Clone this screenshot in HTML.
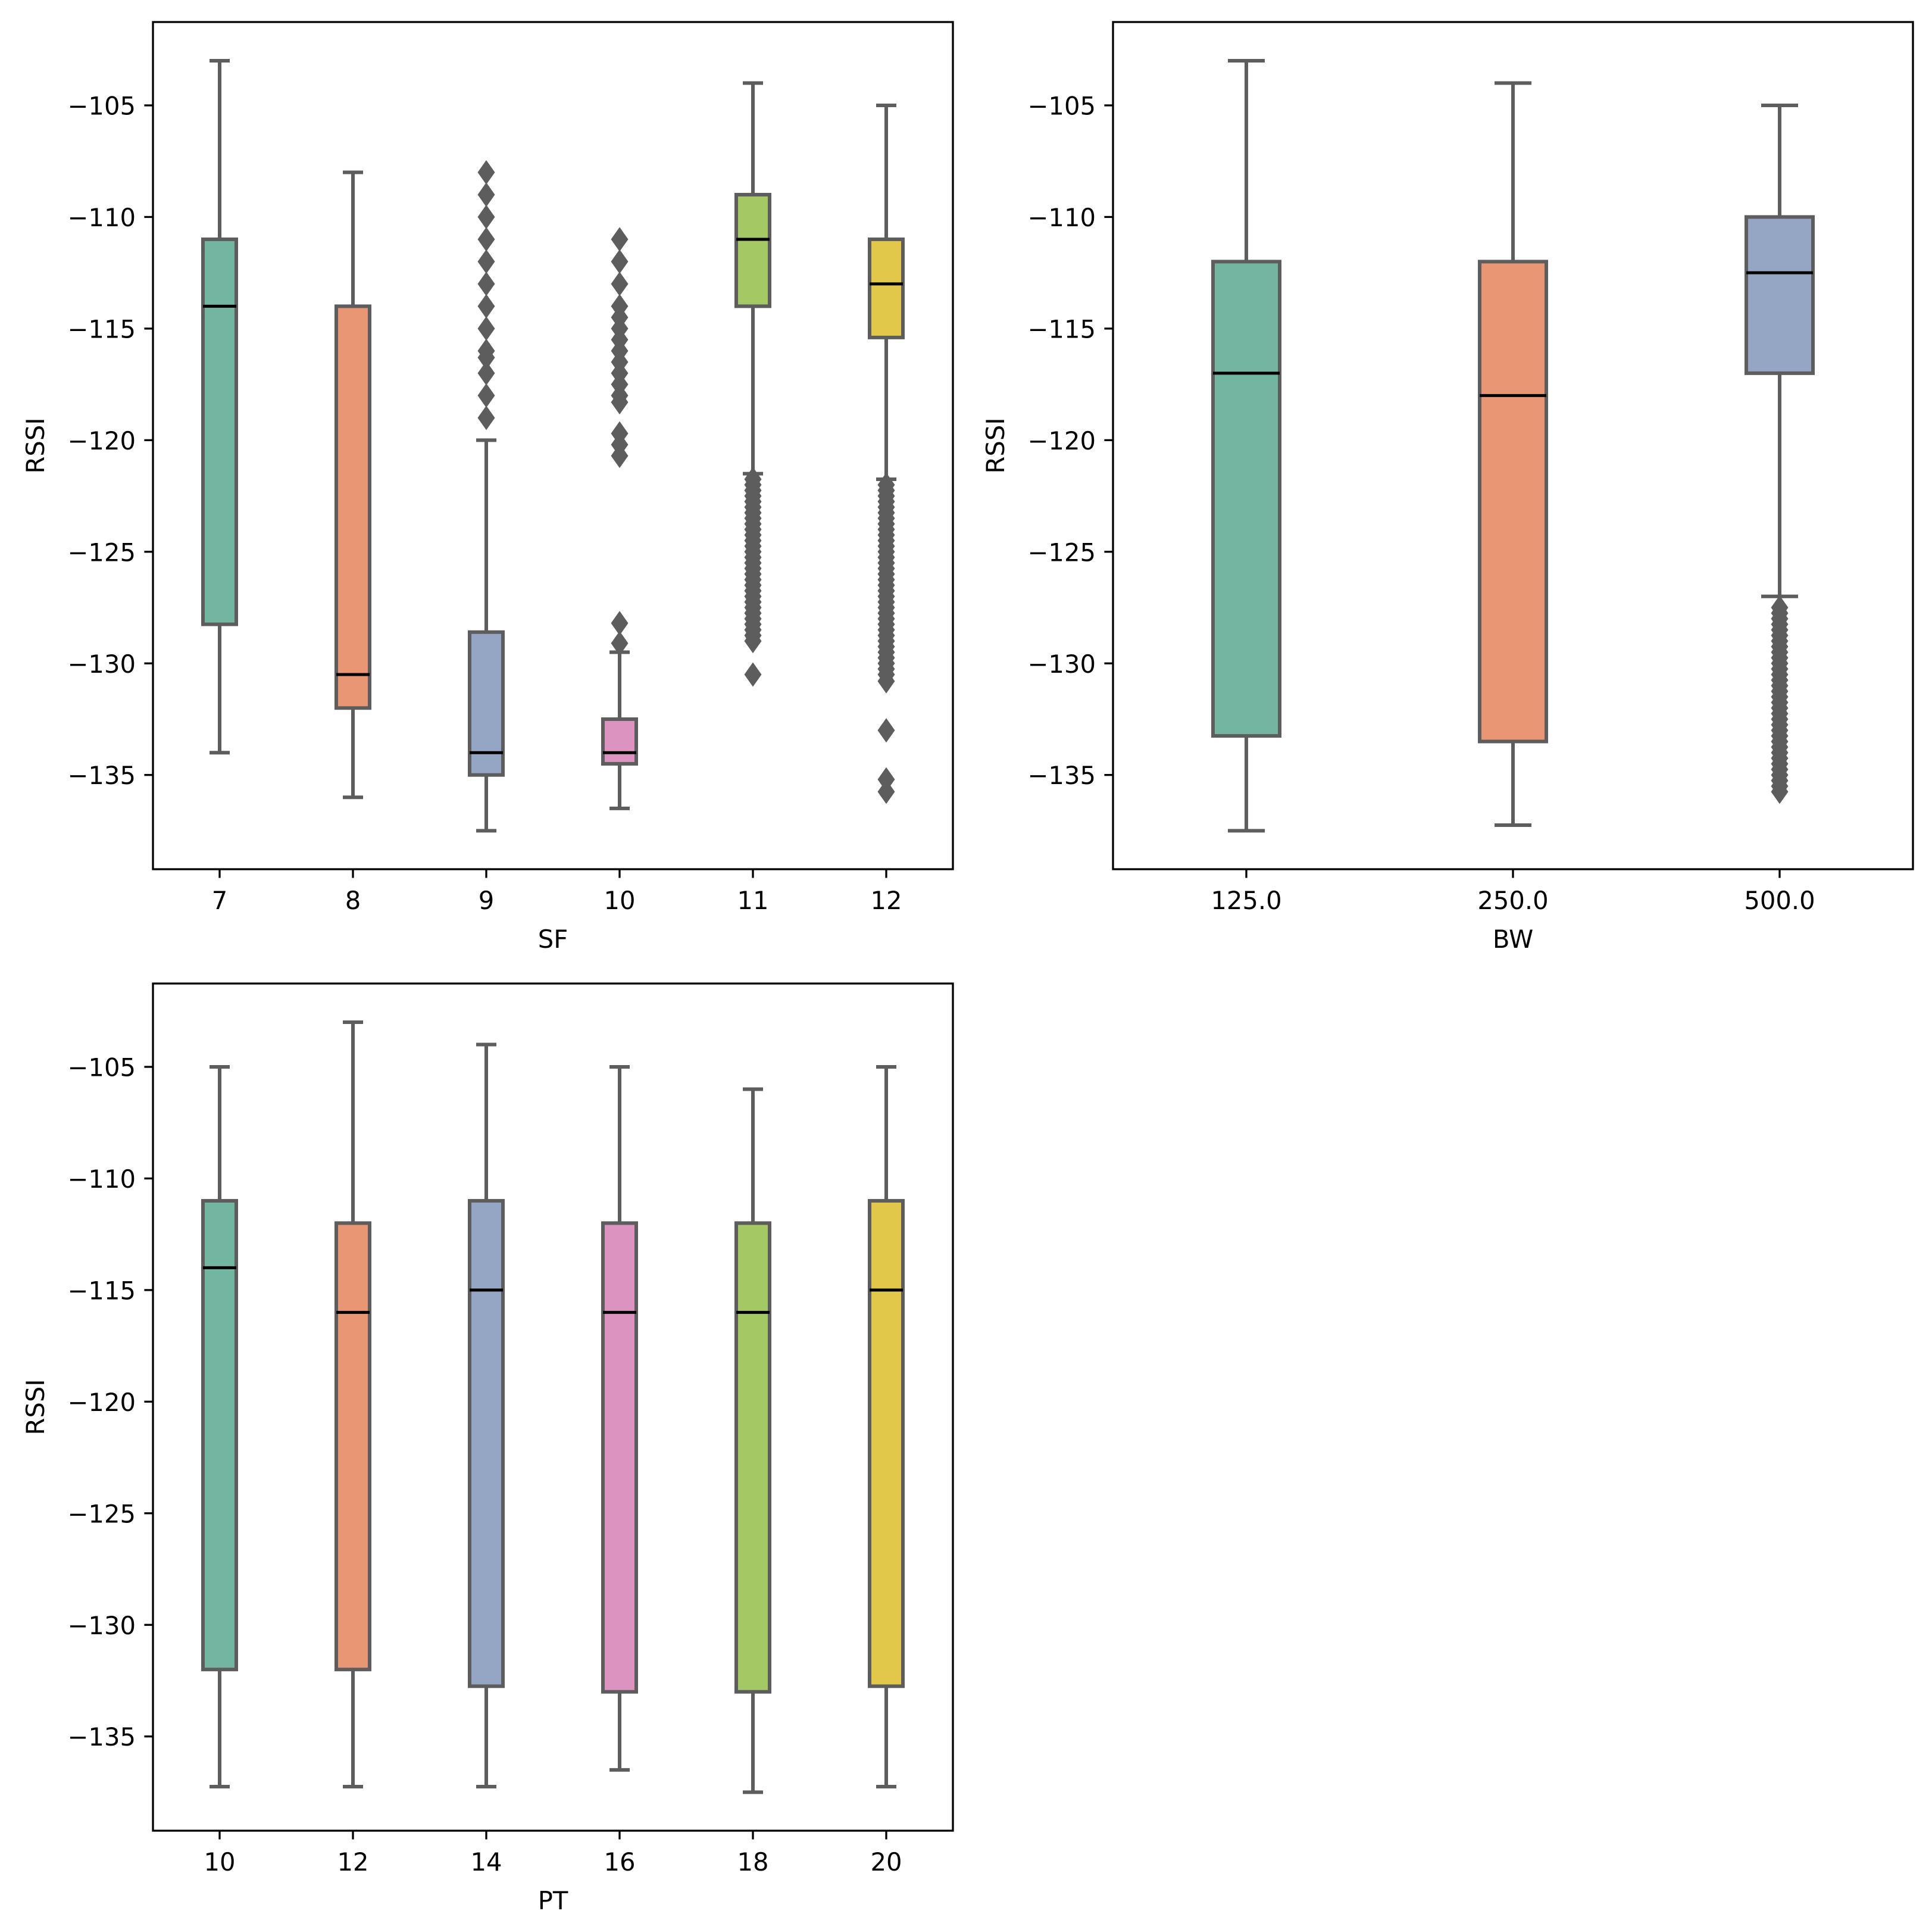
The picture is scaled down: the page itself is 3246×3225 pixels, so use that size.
<!DOCTYPE html>
<html><head><meta charset="utf-8">
<style>
html,body{margin:0;padding:0;background:#fff;}
svg{display:block;font-family:"DejaVu Sans","Liberation Sans",sans-serif;}
</style></head>
<body>
<svg id="fig" width="3246" height="3225" viewBox="0 0 3246 3225" xmlns="http://www.w3.org/2000/svg">
<rect width="3246" height="3225" fill="#fff"/>
</svg>
<script>
// ---- data ----
const yTicks = [-105,-110,-115,-120,-125,-130,-135];
const sfCats = ["7","8","9","10","11","12"];
const sfWhiskHi = [-103,-108,-120,-129.5,-104,-105];
const sfQ3 = [-111,-114,-128.6,-132.5,-109,-111];
const sfMed = [-114,-130.5,-134,-134,-111,-113];
const sfQ1 = [-128.25,-132,-135,-134.5,-114,-115.4];
const sfWhiskLo = [-134,-136,-137.5,-136.5,-121.5,-121.75];
const sfOut7 = [];
const sfOut8 = [];
const sfOut9 = [-108,-109,-110,-111,-112,-113,-114,-115,-116,-116.3,-117,-118,-119];
const sfOut10 = [-111,-112,-113,-114,-114.5,-115,-115.5,-116,-116.5,-117,-117.5,-118,-118.3,-119.7,-120.2,-120.7,-128.2,-129.1];
const sfOut11 = [-121.75,-122,-122.25,-122.5,-122.75,-123,-123.25,-123.5,-123.75,-124,-124.25,-124.5,-124.75,-125,-125.25,-125.5,-125.75,-126,-126.25,-126.5,-126.75,-127,-127.25,-127.5,-127.75,-128,-128.25,-128.5,-128.75,-129,-130.5];
const sfOut12 = [-122,-122.25,-122.5,-122.75,-123,-123.25,-123.5,-123.75,-124,-124.25,-124.5,-124.75,-125,-125.25,-125.5,-125.75,-126,-126.25,-126.5,-126.75,-127,-127.25,-127.5,-127.75,-128,-128.25,-128.5,-128.75,-129,-129.25,-129.5,-129.75,-130,-130.25,-130.5,-130.8,-133,-135.2,-135.75];

const bwCats = ["125.0","250.0","500.0"];
const bwWhiskHi = [-103,-104,-105];
const bwQ3 = [-112,-112,-110];
const bwMed = [-117,-118,-112.5];
const bwQ1 = [-133.25,-133.5,-117];
const bwWhiskLo = [-137.5,-137.25,-127];
const bwOut500 = [-127.5,-127.75,-128,-128.25,-128.5,-128.75,-129,-129.25,-129.5,-129.75,-130,-130.25,-130.5,-130.75,-131,-131.25,-131.5,-131.75,-132,-132.25,-132.5,-132.75,-133,-133.25,-133.5,-133.75,-134,-134.25,-134.5,-134.75,-135,-135.25,-135.5,-135.75];

const ptCats = ["10","12","14","16","18","20"];
const ptWhiskHi = [-105,-103,-104,-105,-106,-105];
const ptQ3 = [-111,-112,-111,-112,-112,-111];
const ptMed = [-114,-116,-115,-116,-116,-115];
const ptQ1 = [-132,-132,-132.75,-133,-133,-132.75];
const ptWhiskLo = [-137.25,-137.25,-137.25,-136.5,-137.5,-137.25];

const palette = ["#72b6a1","#e99675","#95a6c4","#dc93bf","#a4c863","#e2c84a"];

// ---- drawing ----
const NS = "http://www.w3.org/2000/svg";
const fig = document.getElementById("fig");
function mk(tag, attrs, parent){
  const e = document.createElementNS(NS, tag);
  for (const k in attrs) e.setAttribute(k, attrs[k]);
  (parent||fig).appendChild(e);
  return e;
}
const EDGE = "#5d5d5d";

function panel(name, L, R, T, B, cats, hi, q3, med, q1, lo, outs, xlabel){
  const g = mk("g", {});
  
  
  const ppu = 37.49, y105 = T + 140;
  const yS = v => y105 + (-105 - v) * ppu;
  const step = (R - L) / cats.length;
  const xS = i => L + step * (i + 0.5);
  const bw = step * 0.25;
  yTicks.forEach(t => {
    const y = yS(t);
    const tk = mk("line", {x1:L-14.6, x2:L, y1:y, y2:y, stroke:"#000", "stroke-width":3.3}, g);
    
    
    const tx = mk("text", {x:L-29, y:y+15.5, "text-anchor":"end", "font-size":41.7, fill:"#000"}, g);
    
    
    tx.textContent = "\u2212" + Math.abs(t);
  });
  cats.forEach((c, i) => {
    const x = xS(i);
    const tk = mk("line", {x1:x, x2:x, y1:B, y2:B+14.6, stroke:"#000", "stroke-width":3.3}, g);
    
    
    const tx = mk("text", {x:x, y:B+67, "text-anchor":"middle", "font-size":41.7, fill:"#000"}, g);
    
    
    tx.textContent = c;
    const bg = mk("g", {}, g);
    
    
    const ws = {stroke:EDGE, "stroke-width":6, "stroke-linecap":"butt"};
    mk("line", Object.assign({x1:x, x2:x, y1:yS(hi[i]), y2:yS(q3[i])}, ws), bg);
    mk("line", Object.assign({x1:x, x2:x, y1:yS(q1[i]), y2:yS(lo[i])}, ws), bg);
    mk("line", Object.assign({x1:x-bw/4-3, x2:x+bw/4+3, y1:yS(hi[i]), y2:yS(hi[i])}, ws), bg);
    mk("line", Object.assign({x1:x-bw/4-3, x2:x+bw/4+3, y1:yS(lo[i]), y2:yS(lo[i])}, ws), bg);
    mk("rect", {x:x-bw/2, y:yS(q3[i]), width:bw, height:yS(q1[i])-yS(q3[i]), fill:palette[i], stroke:EDGE, "stroke-width":6}, bg);
    mk("line", {x1:x-bw/2, x2:x+bw/2, y1:yS(med[i]), y2:yS(med[i]), stroke:"#000", "stroke-width":5}, bg);
    (outs[i]||[]).forEach(v => {
      const y = yS(v);
      const d = mk("polygon", {points:`${x},${y-20.5} ${x+14.5},${y} ${x},${y+20.5} ${x-14.5},${y}`, fill:EDGE}, bg);
      
      
    });
  });
  const fr = mk("rect", {x:L, y:T, width:R-L, height:B-T, fill:"none", stroke:"#000", "stroke-width":3.3}, g);
  
  
  const xl = mk("text", {x:(L+R)/2, y:B+132, "text-anchor":"middle", "font-size":41.7, fill:"#000"}, g);
  
  
  xl.textContent = xlabel;
  const yl = mk("text", {x:0, y:0, "text-anchor":"middle", "font-size":41.7, fill:"#000", transform:`translate(${L-183},${(T+B)/2}) rotate(-90)`}, g);
  
  
  yl.textContent = "RSSI";
}

panel("sf-boxplot", 257, 1601, 37, 1460, sfCats, sfWhiskHi, sfQ3, sfMed, sfQ1, sfWhiskLo,
  [sfOut7, sfOut8, sfOut9, sfOut10, sfOut11, sfOut12], "SF");
panel("bw-boxplot", 1870, 3214, 37, 1460, bwCats, bwWhiskHi, bwQ3, bwMed, bwQ1, bwWhiskLo,
  [[], [], bwOut500], "BW");
panel("pt-boxplot", 257, 1601, 1652, 3075, ptCats, ptWhiskHi, ptQ3, ptMed, ptQ1, ptWhiskLo,
  [], "PT");
</script>
</body></html>
